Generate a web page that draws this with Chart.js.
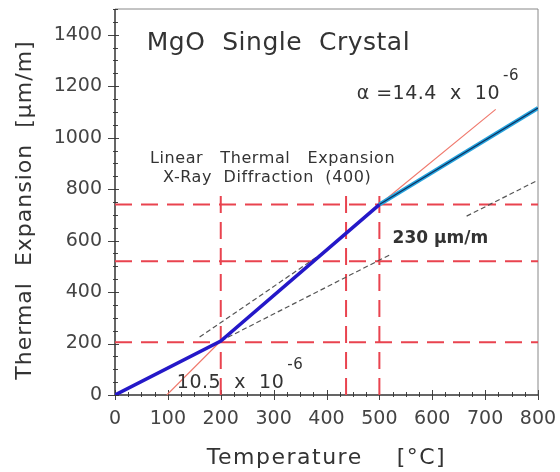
<!DOCTYPE html>
<html>
<head>
<meta charset="utf-8">
<title>MgO Single Crystal</title>
<script src="https://cdn.jsdelivr.net/npm/chart.js@4.4.1/dist/chart.umd.min.js"></script>
<style>
  html, body { margin: 0; padding: 0; background: #fff; }
  #wrap { width: 560px; height: 472px; position: relative; }
</style>
</head>
<body>
<div id="wrap"><canvas id="expChart"></canvas></div>
<script>
// MgO single crystal - thermal expansion
const xTickValues = [0, 100, 200, 300, 400, 500, 600, 700, 800];
const yTickValues = [0, 200, 400, 600, 800, 1000, 1200, 1400];

// measured curve (blue below 500 C, cyan above)
const curveLowT = [0, 200, 500];
const curveLowE = [0, 210, 740];
const curveHighT = [500, 800];
const curveHighE = [740, 1115];

// alpha = 14.4e-6 line (thin red)
const alphaT = [98, 200, 500, 720];
const alphaE = [0, 210, 740, 1110];

// gray dashed extrapolations
const upperFitT = [160, 395];
const upperFitE = [225, 555];
const lowerFitT = [200, 520, 600, 665, 800];
const lowerFitE = [210, 545, null, 695, 835];

// red dashed guide lines
const guideLevels = [205, 520, 740];
const guideTemps = [200, 437, 500];
const guideTop = 790;

const FONT = '"DejaVu Sans", Verdana, sans-serif';

function zip(xs, ys) {
    return xs.map((x, i) => ({ x: x, y: ys[i] }));
}

function lineSet(data, color, width, dash) {
    return {
        data: data,
        borderColor: color,
        borderWidth: width,
        borderDash: dash || [],
        pointRadius: 0,
        fill: false,
        tension: 0,
        spanGaps: false
    };
}

// text on the plot, placed in data units
const notes = [
    { text: 'MgO  Single  Crystal', t: 60, e: 1341, font: '25px ' + FONT, spacing: '0.5px' },
    { text: 'Linear   Thermal   Expansion', t: 66, e: 902, font: '16px ' + FONT, spacing: '0.6px' },
    { text: 'X-Ray  Diffraction  (400)', t: 91, e: 828, font: '16px ' + FONT, spacing: '0.6px' },
    { text: '\u03b1 =14.4  x  10', t: 457, e: 1150, font: '19px ' + FONT, spacing: '0.5px', sup: '-6' },
    { text: '230 \u00b5m/m', t: 525, e: 591, font: 'bold 17px ' + FONT, spacing: '0px' },
    { text: '10.5  x  10', t: 117, e: 27, font: '19px ' + FONT, spacing: '0.5px', sup: '-6' }
];

const decorPlugin = {
    id: 'decor',
    beforeDatasetsDraw(chart) {
        const { ctx, chartArea: a, scales: { x, y } } = chart;
        ctx.save();
        // frame
        ctx.strokeStyle = '#888';
        ctx.lineWidth = 1;
        ctx.beginPath();
        ctx.moveTo(a.left, a.top);
        ctx.lineTo(a.right, a.top);
        ctx.lineTo(a.right, a.bottom);
        ctx.stroke();

        // minor / major ticks
        ctx.strokeStyle = '#444';
        ctx.lineWidth = 1;
        ctx.beginPath();
        for (let v = x.min; v <= x.max; v += 25) {
            const px = Math.round(x.getPixelForValue(v)) + 0.5;
            const major = v % 100 === 0;
            ctx.moveTo(px, a.bottom + (major ? 5 : 2));
            ctx.lineTo(px, a.bottom - (major ? 5 : 3));
        }
        for (let v = y.min; v <= y.max; v += 50) {
            const py = Math.round(y.getPixelForValue(v)) + 0.5;
            const major = v % 200 === 0;
            ctx.moveTo(a.left - (major ? 7 : 2), py);
            ctx.lineTo(a.left + (major ? 4 : 3), py);
        }
        ctx.stroke();

        // axes
        ctx.strokeStyle = '#333';
        ctx.lineWidth = 1.5;
        ctx.beginPath();
        ctx.moveTo(a.left, a.top);
        ctx.lineTo(a.left, a.bottom);
        ctx.lineTo(a.right, a.bottom);
        ctx.stroke();
        ctx.restore();
    },
    afterDatasetsDraw(chart) {
        const { ctx, chartArea: a, scales: { x, y } } = chart;
        ctx.save();
        ctx.fillStyle = '#333';
        ctx.textBaseline = 'alphabetic';
        ctx.textAlign = 'left';
        notes.forEach(n => {
            const px = x.getPixelForValue(n.t);
            const py = y.getPixelForValue(n.e);
            ctx.font = n.font;
            ctx.letterSpacing = n.spacing;
            ctx.fillText(n.text, px, py);
            if (n.sup) {
                const w = ctx.measureText(n.text).width;
                ctx.font = '15px ' + FONT;
                ctx.fillText(n.sup, px + w + 3, py - 19);
            }
        });

        // axis titles
        ctx.font = '22px ' + FONT;
        ctx.letterSpacing = '1.5px';
        ctx.textAlign = 'center';
        ctx.fillText('Temperature    [\u00b0C]', (a.left + a.right) / 2, 464);

        ctx.letterSpacing = '1px';
        ctx.translate(31, 210);
        ctx.rotate(-Math.PI / 2);
        ctx.fillText('Thermal  Expansion  [\u00b5m/m]', 0, 0);
        ctx.restore();
    }
};

class ExpansionChart {
    constructor() {
        this.chart = null;
        this.render();
    }

    buildDatasets() {
        const sets = [];
        sets.push(lineSet(zip(curveLowT, curveLowE), '#2418c8', 3.5));
        sets.push(lineSet(zip(curveHighT, curveHighE), '#0e2f5e', 1.2));
        sets.push(lineSet(zip(curveHighT, curveHighE), '#25a2dc', 4));
        sets.push(lineSet(zip(upperFitT, upperFitE), '#555', 1.2, [5, 3]));
        sets.push(lineSet(zip(lowerFitT, lowerFitE), '#555', 1.2, [5, 3]));
        sets.push(lineSet(zip(alphaT, alphaE), '#f07a6e', 1.2));

        guideLevels.forEach(lv => {
            sets.push(lineSet(zip([0, 800], [lv, lv]), '#e9434f', 2, [17, 9]));
        });
        guideTemps.forEach(t => {
            sets.push(lineSet(zip([t, t], [0, guideTop]), '#e9434f', 2, [17, 9]));
        });
        return sets;
    }

    render() {
        const ctx = document.getElementById('expChart').getContext('2d');
        this.chart = new Chart(ctx, {
            type: 'line',
            data: { datasets: this.buildDatasets() },
            options: {
                responsive: true,
                maintainAspectRatio: false,
                animation: false,
                events: [],
                layout: { padding: { top: 9, right: 22, left: 0, bottom: 0 } },
                plugins: {
                    legend: { display: false },
                    tooltip: { enabled: false }
                },
                scales: {
                    x: {
                        type: 'linear',
                        min: 0,
                        max: 800,
                        afterBuildTicks: s => { s.ticks = xTickValues.map(v => ({ value: v })); },
                        afterFit: s => { s.height = 77; s.paddingLeft = 0; s.paddingRight = 0; },
                        grid: { display: false, drawTicks: false },
                        border: { display: false },
                        ticks: {
                            color: '#444',
                            padding: 13,
                            maxRotation: 0,
                            callback: v => String(v),
                            font: { family: FONT, size: 19 }
                        }
                    },
                    y: {
                        type: 'linear',
                        min: 0,
                        max: 1500,
                        afterBuildTicks: s => { s.ticks = yTickValues.map(v => ({ value: v })); },
                        afterFit: s => { s.width = 115; s.paddingTop = 0; s.paddingBottom = 0; },
                        grid: { display: false, drawTicks: false },
                        border: { display: false },
                        ticks: {
                            color: '#444',
                            padding: 13,
                            callback: v => String(v),
                            font: { family: FONT, size: 19 }
                        }
                    }
                }
            },
            plugins: [decorPlugin]
        });
    }
}

new ExpansionChart();
</script>
</body>
</html>
